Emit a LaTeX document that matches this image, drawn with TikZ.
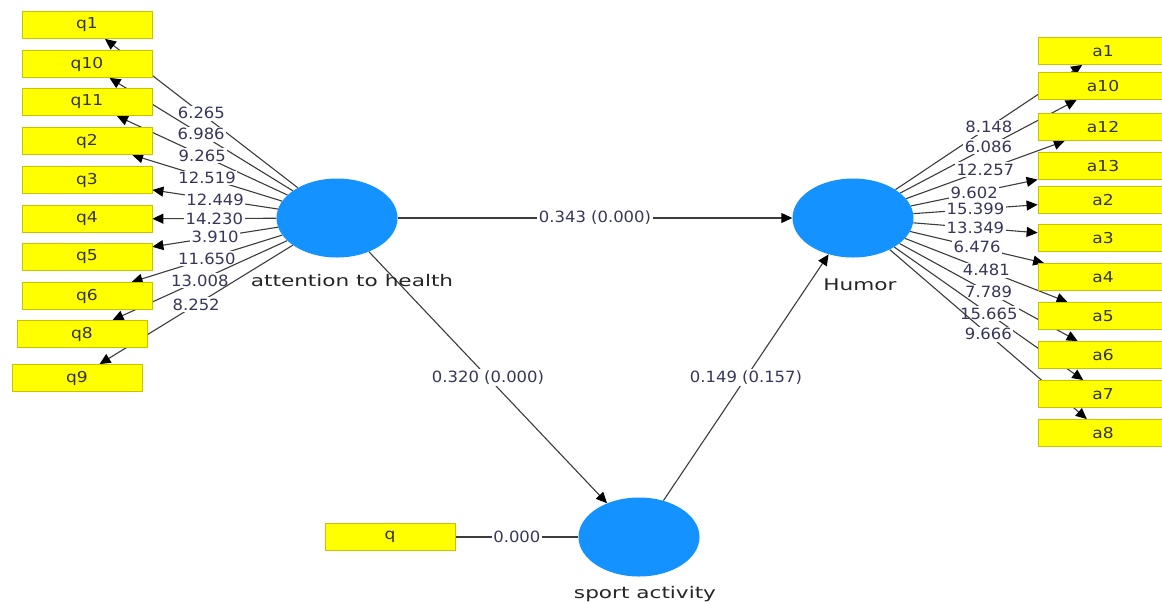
\documentclass[tikz,border=0pt]{standalone}
\usepackage{fontspec}
\setmainfont{DejaVu Sans}
\newfontfamily\numfont[FakeStretch=1.06]{DejaVu Sans}
\newfontfamily\boxfont[FakeStretch=1.14]{DejaVu Sans}
\newfontfamily\latfont[FakeStretch=1.35]{DejaVu Sans}
\usepackage{tikz}
\usetikzlibrary{shapes.geometric,arrows.meta}
\definecolor{plsblue}{RGB}{20,146,255}
\definecolor{plsyellow}{RGB}{255,255,0}
\definecolor{plsedge}{RGB}{196,196,0}
\definecolor{numtext}{RGB}{55,55,90}
\definecolor{linegray}{RGB}{60,60,60}
\pgfdeclarelayer{paper}
\pgfdeclarelayer{bg}
\pgfsetlayers{paper,bg,main}

\begin{document}
\begin{tikzpicture}[x=1pt,y=-1pt,
  latent/.style={ellipse,fill=plsblue,minimum width=121pt,minimum height=79pt,inner sep=0pt},
  indicator/.style={rectangle,fill=plsyellow,draw=plsedge,line width=0.8pt,minimum width=130pt,minimum height=27pt,inner sep=0pt,font=\boxfont\fontsize{15}{15}\selectfont,text=black!80},
  latname/.style={font=\latfont\fontsize{16}{16}\selectfont,text=black!85},
  coef/.style={fill=white,inner sep=1.5pt,font=\numfont\fontsize{15.5}{15.5}\selectfont,text=numtext},
  link/.style={draw=linegray,line width=1.1pt,-{Triangle[length=11pt,width=10pt,color=black]}},
  plain/.style={draw=linegray,line width=1.1pt},
  ]
\useasboundingbox (0,0) rectangle (1162,603);
\begin{pgfonlayer}{paper}
\fill[white] (0,0) rectangle (1162,603);
\end{pgfonlayer}
\clip (0,0) rectangle (1162,603);

% Latent variables
\node[latent] (ath) at (337,218) {};
\node[latent] (hum) at (853,218) {};
\node[latent] (spo) at (639,537) {};
\node[latname] (athname) at (352,281) {attention to health};
\node[latname] (humname) at (860,285) {Humor};
\node[latname] (sponame) at (645,594) {sport activity};

% Indicators of attention to health
\node[indicator] (q1) at (87,25) {q1};
\node[indicator] (q10) at (87,64) {q10};
\node[indicator] (q11) at (87,102) {q11};
\node[indicator] (q2) at (87,141) {q2};
\node[indicator] (q3) at (87,180) {q3};
\node[indicator] (q4) at (87,219) {q4};
\node[indicator] (q5) at (87,257) {q5};
\node[indicator] (q6) at (87,296) {q6};
\node[indicator] (q8) at (82,334) {q8};
\node[indicator] (q9) at (77,378) {q9};

% Indicators of Humor
\node[indicator] (a1) at (1103,51) {a1};
\node[indicator] (a10) at (1103,86) {a10};
\node[indicator] (a12) at (1103,127) {a12};
\node[indicator] (a13) at (1103,166) {a13};
\node[indicator] (a2) at (1103,200) {a2};
\node[indicator] (a3) at (1103,238) {a3};
\node[indicator] (a4) at (1103,277) {a4};
\node[indicator] (a5) at (1103,316) {a5};
\node[indicator] (a6) at (1103,355) {a6};
\node[indicator] (a7) at (1103,394) {a7};
\node[indicator] (a8) at (1103,433) {a8};

% Indicator of sport activity
\node[indicator] (q) at (390,537) {q};

\begin{pgfonlayer}{bg}
% Outer loadings, attention to health
\draw[link] (ath) -- node[coef] {6.265} (q1);
\draw[link] (ath) -- node[coef] {6.986} (q10);
\draw[link] (ath) -- node[coef] {9.265} (q11);
\draw[link] (ath) -- node[coef] {12.519} (q2);
\draw[link] (ath) -- node[coef] {12.449} (q3);
\draw[link] (ath) -- node[coef] {14.230} (q4);
\draw[link] (ath) -- node[coef] {3.910} (q5);
\draw[link] (ath) -- node[coef] {11.650} (q6);
\draw[link] (ath) -- node[coef] {13.008} (q8);
\draw[link] (ath) -- node[coef] {8.252} (q9);

% Outer loadings, Humor
\draw[link] (hum) -- node[coef] {8.148} (a1);
\draw[link] (hum) -- node[coef] {6.086} (a10);
\draw[link] (hum) -- node[coef] {12.257} (a12);
\draw[link] (hum) -- node[coef] {9.602} (a13);
\draw[link] (hum) -- node[coef] {15.399} (a2);
\draw[link] (hum) -- node[coef] {13.349} (a3);
\draw[link] (hum) -- node[coef] {6.476} (a4);
\draw[link] (hum) -- node[coef] {4.481} (a5);
\draw[link] (hum) -- node[coef] {7.789} (a6);
\draw[link] (hum) -- node[coef] {15.665} (a7);
\draw[link] (hum) -- node[coef] {9.666} (a8);

% Outer loading, sport activity
\draw[plain] (q) -- node[coef] {0.000} (spo);

% Path coefficients
\draw[link] (ath) -- node[coef] {0.343 (0.000)} (hum);
\draw[link] (ath) -- node[coef] {0.320 (0.000)} (spo);
\draw[link] (spo) -- node[coef] {0.149 (0.157)} (hum);
\end{pgfonlayer}
\end{tikzpicture}
\end{document}
